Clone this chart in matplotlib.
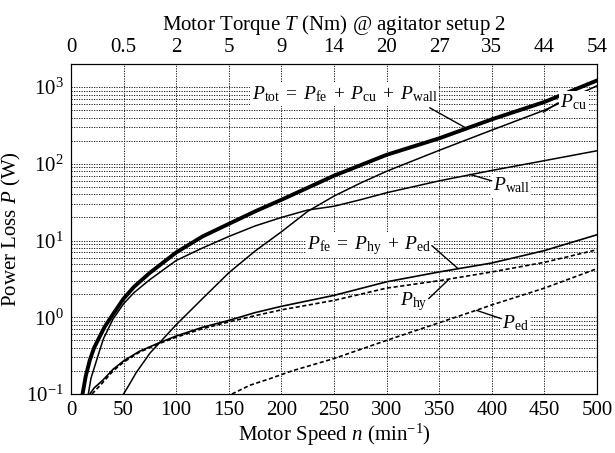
import matplotlib
matplotlib.use("Agg")
import matplotlib.pyplot as plt

plt.rcParams['font.family'] = ['Liberation Serif', 'DejaVu Serif']
plt.rcParams['mathtext.fontset'] = 'custom'
plt.rcParams['mathtext.rm'] = 'Liberation Serif'
plt.rcParams['mathtext.it'] = 'Liberation Serif:italic'
plt.rcParams['font.size'] = 15

# speed ticks and matching torque labels (top axis)
speed_ticks = [0, 50, 100, 150, 200, 250, 300, 350, 400, 450, 500]
torque_labels = ["0", "0.5", "2", "5", "9", "14", "20", "27", "35", "44", "54"]

# n in min^-1, P in W
n_tot = [11, 14, 18, 22, 27, 32, 40, 50, 60, 75, 100, 125, 150, 175, 200, 250, 300, 350, 400, 450, 500]
p_tot = [0.1, 0.17, 0.28, 0.4, 0.55, 0.75, 1.1, 1.75, 2.5, 3.8, 7.0, 11.3, 16.5, 24, 34, 70, 131, 215, 380, 640, 1220]

n_wall = [16.5, 19, 23, 27, 31, 40, 50, 60, 75, 100, 125, 150, 175, 200, 225, 250, 275, 300, 350, 400, 450, 500]
p_wall = [0.1, 0.16, 0.24, 0.36, 0.53, 0.95, 1.5, 2.1, 3.1, 5.5, 8.0, 11.3, 15.5, 20, 25, 28, 34, 42, 60, 82, 110, 148]

n_cu = [50, 55, 62, 75, 100, 125, 150, 175, 200, 225, 250, 275, 300, 350, 400, 450, 500]
p_cu = [0.1, 0.13, 0.19, 0.34, 0.8, 1.75, 3.8, 7.3, 13, 24, 38, 56, 80, 150, 275, 500, 1040]

n_fe = [18, 22, 30, 40, 50, 65, 83, 100, 125, 150, 175, 200, 250, 300, 350, 400, 450, 500]
p_fe = [0.1, 0.12, 0.15, 0.21, 0.27, 0.36, 0.46, 0.57, 0.74, 0.91, 1.15, 1.39, 1.93, 2.9, 3.9, 5.1, 7.4, 11.9]

n_hy = [20, 30, 40, 50, 65, 83, 100, 125, 150, 175, 200, 250, 300, 350, 400, 450, 500]
p_hy = [0.1, 0.14, 0.2, 0.26, 0.35, 0.45, 0.55, 0.71, 0.87, 1.05, 1.25, 1.66, 2.4, 3.0, 3.9, 5.2, 7.6]

n_ed = [153, 170, 190, 210, 250, 300, 350, 385, 400, 450, 500]
p_ed = [0.1, 0.13, 0.16, 0.2, 0.29, 0.5, 0.85, 1.23, 1.45, 2.4, 4.3]

fig = plt.figure(figsize=(6.15, 4.53), dpi=100)
ax = fig.add_axes([0.1154, 0.1302, 0.8553, 0.7285])

dash = (0, (2.5, 1.5))
ax.plot(n_tot, p_tot, color='k', lw=2.8)
ax.plot(n_wall, p_wall, color='k', lw=1.1)
ax.plot(n_cu, p_cu, color='k', lw=1.1)
ax.plot(n_fe, p_fe, color='k', lw=1.2)
ax.plot(n_hy, p_hy, color='k', lw=1.2, linestyle=dash)
ax.plot(n_ed, p_ed, color='k', lw=1.2, linestyle=dash)

ax.set_yscale('log')
ax.set_xlim(0, 500)
ax.set_ylim(0.1, 2000)
ax.set_xticks(speed_ticks)
ax.grid(True, which='both', color='k', lw=0.6, linestyle=(0, (1.5, 1.5)))
ax.tick_params(which='both', length=0, pad=5)
ax.set_xlabel("Motor Speed $n$ (min$^{-1}$)", labelpad=1)
ax.set_ylabel("Power Loss $P$ (W)", labelpad=2)

top = ax.twiny()
top.set_xlim(ax.get_xlim())
top.set_xticks(speed_ticks)
top.set_xticklabels(torque_labels)
top.tick_params(length=0, pad=5)
top.set_xlabel("Motor Torque $T$ (Nm) @ agitator setup 2", labelpad=6)

box = dict(facecolor='white', edgecolor='none', pad=1)
line = dict(arrowstyle='-', lw=1.0, color='k', shrinkA=0, shrinkB=0)

# labels and leaders
ax.text(260, 800, r"$P_{\mathrm{tot}}\;=\;P_{\mathrm{fe}}\;+\;P_{\mathrm{cu}}\;+\;P_{\mathrm{wall}}$",
        ha='center', va='center', bbox=box, fontsize=14)
ax.annotate('', xy=(377, 285), xytext=(341, 538), arrowprops=line)

ax.text(465, 640, r"$P_{\mathrm{cu}}$", ha='left', va='center', bbox=box, fontsize=14)
ax.annotate('', xy=(449, 470), xytext=(463, 625), arrowprops=line)

ax.text(401, 52, r"$P_{\mathrm{wall}}$", ha='left', va='center', bbox=box, fontsize=14)
ax.annotate('', xy=(379, 73), xytext=(400, 60), arrowprops=line)

ax.text(284, 8.6, r"$P_{\mathrm{fe}}\;=\;P_{\mathrm{hy}}\;+\;P_{\mathrm{ed}}$", ha='center', va='center',
        bbox=box, fontsize=14)
ax.annotate('', xy=(368, 4.3), xytext=(343, 8.6), arrowprops=line)

ax.text(326, 1.6, r"$P_{\mathrm{hy}}$", ha='center', va='center', bbox=box, fontsize=14)
ax.annotate('', xy=(359, 3.1), xytext=(340, 1.75), arrowprops=line)

ax.text(422, 0.85, r"$P_{\mathrm{ed}}$", ha='center', va='center', bbox=box, fontsize=14)
ax.annotate('', xy=(385.6, 1.23), xytext=(409, 0.96), arrowprops=line)

fig.savefig("out.png", dpi=100)
